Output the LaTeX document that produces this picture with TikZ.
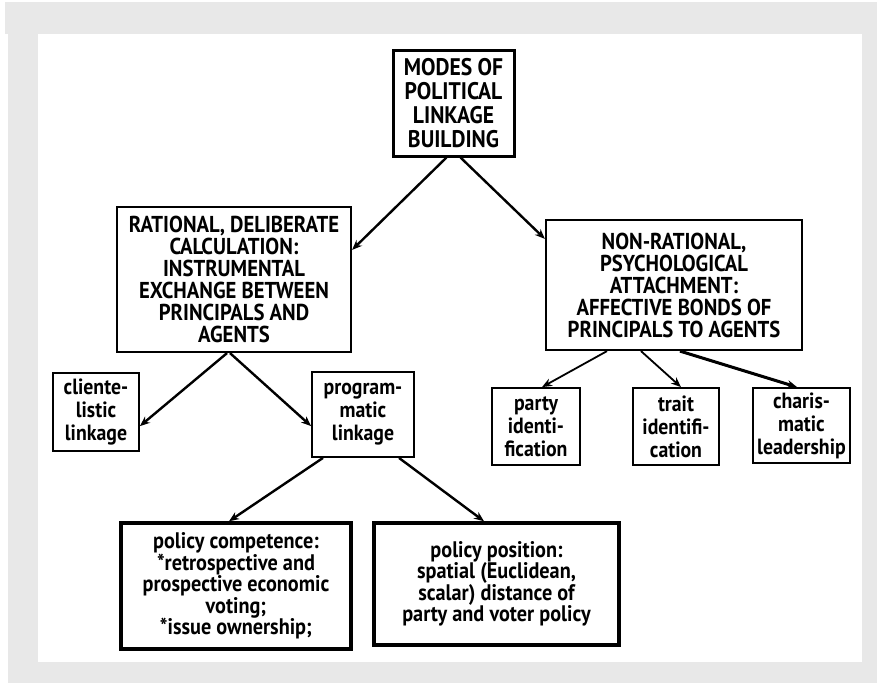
\documentclass[tikz,border=0pt]{standalone}
\usepackage{fontspec}
\setmainfont{PT Sans}[FakeStretch=0.9]
\usetikzlibrary{arrows.meta,calc}
\begin{document}
\begin{tikzpicture}[x=1pt,y=-1pt,
  box/.style={draw=black,fill=white,align=center,inner sep=0pt,minimum width=#1},
  capsA/.style={font=\bfseries\fontsize{24}{24}\selectfont},
  capsB/.style={font=\bfseries\fontsize{23}{22}\selectfont},
  lowA/.style={font=\bfseries\fontsize{22}{23}\selectfont},
  lowB/.style={font=\bfseries\fontsize{22.5}{21.5}\selectfont},
  conn/.style={line width=2.4pt,-{Stealth[length=10pt,width=8pt]}},
  noise/.style={fill=black!9,draw=none}]
\useasboundingbox (0,0) rectangle (877,683);
\fill[white] (0,0) rectangle (877,683);
\fill[noise] (5,2) rectangle (877,34);
\fill[noise] (8,2) rectangle (38,683);
\fill[noise] (862,2) rectangle (877,683);
\fill[noise] (8,662) rectangle (877,683);
\fill[white] (38,34) rectangle (862,662);

\node[box=121pt,minimum height=106pt,line width=3pt,capsA] (modes) at (453.5,103)
  {MODES OF\\POLITICAL\\LINKAGE\\BUILDING};
\node[box=234pt,minimum height=145pt,line width=2.2pt,capsB] (rat) at (234,279.5)
  {RATIONAL, DELIBERATE\\CALCULATION:\\INSTRUMENTAL\\EXCHANGE BETWEEN\\PRINCIPALS AND\\AGENTS};
\node[box=256pt,minimum height=130pt,line width=2.2pt,capsB] (non) at (674,285)
  {NON-RATIONAL,\\PSYCHOLOGICAL\\ATTACHMENT:\\AFFECTIVE BONDS OF\\PRINCIPALS TO AGENTS};
\node[box=86pt,minimum height=78pt,line width=1.8pt,lowA] (cli) at (96,412)
  {cliente-\\listic\\linkage};
\node[box=102pt,minimum height=85pt,line width=1.8pt,lowA] (prog) at (363,414.5)
  {program-\\matic\\linkage};
\node[box=88pt,minimum height=77pt,line width=1.8pt,lowA] (party) at (536,426.5)
  {party\\identi-\\fication};
\node[box=86pt,minimum height=77pt,line width=1.8pt,lowA] (trait) at (676,426.5)
  {trait\\identifi-\\cation};
\node[box=97pt,minimum height=75pt,line width=1.8pt,lowA] (char) at (801.5,425.5)
  {charis-\\matic\\leadership};
\node[box=230pt,minimum height=126pt,line width=3.5pt,lowB] (comp) at (236,586)
  {policy competence:\\*retrospective and\\prospective economic\\voting;\\*issue ownership;};
\node[box=245pt,minimum height=122pt,line width=3.5pt,lowB] (pos) at (496.5,584)
  {policy position:\\spatial (Euclidean,\\scalar) distance of\\party and voter policy};

\draw[conn] ([xshift=-7pt]modes.south) -- ([yshift=-31pt]non.north west -| rat.east);
\draw[conn] ([xshift=7pt]modes.south) -- ([yshift=-20pt]non.north west);
\draw[conn] ([xshift=-7pt]rat.south) -- ([yshift=-54pt]cli.north east);
\draw[conn] ([xshift=-4pt]rat.south) -- ([yshift=-55pt]prog.north west);
\draw[conn,line width=1.8pt] ([xshift=-67pt]non.south) -- ([xshift=6pt]party.north);
\draw[conn,line width=1.8pt] ([xshift=-33pt]non.south) -- ([xshift=5pt]trait.north);
\draw[conn,line width=3pt] ([xshift=6pt]non.south) -- ([xshift=-4.5pt]char.north);
\draw[conn] ([xshift=-40pt]prog.south) -- ([xshift=-7pt]comp.north);
\draw[conn] ([xshift=36pt]prog.south) -- ([xshift=-12.5pt]pos.north);
\end{tikzpicture}
\end{document}
